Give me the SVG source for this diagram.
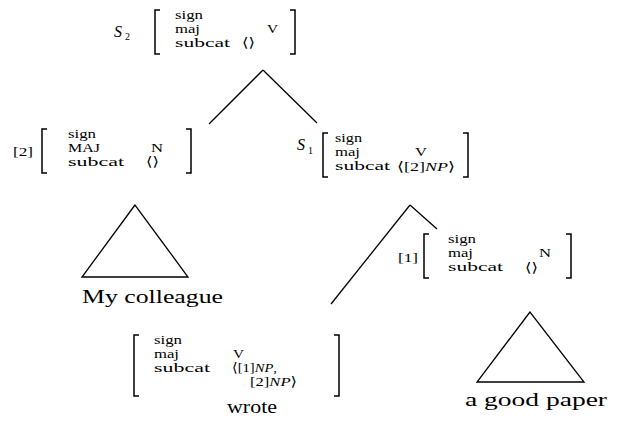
<svg xmlns="http://www.w3.org/2000/svg" width="618" height="425" viewBox="0 0 618 425">
<style>
text{font-family:"Liberation Serif","DejaVu Serif",serif;fill:#000}
.a{font-size:13px}
.b{font-size:18px}
.it{font-style:italic}
.sub{font-size:10px}
.br{fill:none;stroke:#000;stroke-width:1.5}
.ln{fill:none;stroke:#000;stroke-width:1.3}
</style>
<rect width="618" height="425" fill="#fff"/>
<g id="connectors" class="ln">
<path d="M263,70 L209,124"/>
<path d="M263,70 L317,123"/>
<path d="M410,205 L331,304"/>
<path d="M410,205 L437,229"/>
</g>
<g id="s2">
<text class="it" x="114" y="37" font-size="16">S</text>
<text class="sub" x="125" y="40">2</text>
<path class="br" d="M160,10 H155 V54 H160"/>
<text class="a" x="175" y="19" textLength="28" lengthAdjust="spacingAndGlyphs">sign</text>
<text class="a" x="175" y="33" textLength="25" lengthAdjust="spacingAndGlyphs">maj</text>
<text class="a" x="175" y="47" textLength="55" lengthAdjust="spacingAndGlyphs">subcat</text>
<text class="a" x="267" y="33" font-size="15" textLength="11" lengthAdjust="spacingAndGlyphs">V</text>
<text class="a" x="242" y="47" textLength="13" lengthAdjust="spacingAndGlyphs">⟨⟩</text>
<path class="br" d="M290,10 H295 V54 H290"/>
</g>
<g id="n2">
<text class="a" x="13" y="156" font-size="15" textLength="20" lengthAdjust="spacingAndGlyphs">[2]</text>
<path class="br" d="M47,129 H42 V173 H47"/>
<text class="a" x="68" y="138" textLength="28" lengthAdjust="spacingAndGlyphs">sign</text>
<text class="a" x="68" y="152" textLength="32" lengthAdjust="spacingAndGlyphs">MAJ</text>
<text class="a" x="68" y="166" textLength="56" lengthAdjust="spacingAndGlyphs">subcat</text>
<text class="a" x="151" y="152" font-size="15" textLength="12" lengthAdjust="spacingAndGlyphs">N</text>
<text class="a" x="146" y="166" textLength="13" lengthAdjust="spacingAndGlyphs">⟨⟩</text>
<path class="br" d="M186,129 H191 V173 H186"/>
</g>
<g id="colleague">
<path class="ln" d="M135,205 L82,277 L188,277 Z"/>
<text class="b" x="82" y="303" textLength="141" lengthAdjust="spacingAndGlyphs">My colleague</text>
</g>
<g id="s1">
<text class="it" x="297" y="150" font-size="16">S</text>
<text class="sub" x="308" y="154">1</text>
<path class="br" d="M328,133 H323 V177 H328"/>
<text class="a" x="335" y="142" textLength="27" lengthAdjust="spacingAndGlyphs">sign</text>
<text class="a" x="335" y="156" textLength="25" lengthAdjust="spacingAndGlyphs">maj</text>
<text class="a" x="335" y="170" textLength="55" lengthAdjust="spacingAndGlyphs">subcat</text>
<text class="a" x="415" y="156" font-size="15" textLength="12" lengthAdjust="spacingAndGlyphs">V</text>
<text class="a" x="397" y="171" textLength="58" lengthAdjust="spacingAndGlyphs">⟨[2]<tspan class="it">NP</tspan>⟩</text>
<path class="br" d="M463,133 H468 V177 H463"/>
</g>
<g id="n1">
<text class="a" x="398" y="262" font-size="15" textLength="20" lengthAdjust="spacingAndGlyphs">[1]</text>
<path class="br" d="M429,234 H424 V278 H429"/>
<text class="a" x="448" y="243" textLength="28" lengthAdjust="spacingAndGlyphs">sign</text>
<text class="a" x="448" y="257" textLength="25" lengthAdjust="spacingAndGlyphs">maj</text>
<text class="a" x="448" y="271" textLength="55" lengthAdjust="spacingAndGlyphs">subcat</text>
<text class="a" x="539" y="257" font-size="15" textLength="12" lengthAdjust="spacingAndGlyphs">N</text>
<text class="a" x="525" y="272" textLength="13" lengthAdjust="spacingAndGlyphs">⟨⟩</text>
<path class="br" d="M566,234 H571 V278 H566"/>
</g>
<g id="paper">
<path class="ln" d="M530,312 L477,382 L584,382 Z"/>
<text class="b" x="465" y="406" textLength="142" lengthAdjust="spacingAndGlyphs">a good paper</text>
</g>
<g id="wrote">
<path class="br" d="M139,335 H134 V396 H139"/>
<text class="a" x="154" y="344" textLength="28" lengthAdjust="spacingAndGlyphs">sign</text>
<text class="a" x="154" y="358" textLength="25" lengthAdjust="spacingAndGlyphs">maj</text>
<text class="a" x="154" y="372" textLength="56" lengthAdjust="spacingAndGlyphs">subcat</text>
<text class="a" x="233" y="358" font-size="15" textLength="11" lengthAdjust="spacingAndGlyphs">V</text>
<text class="a" x="232" y="372" textLength="45" lengthAdjust="spacingAndGlyphs">⟨[1]<tspan class="it">NP</tspan>,</text>
<text class="a" x="250" y="386" textLength="47" lengthAdjust="spacingAndGlyphs">[2]<tspan class="it">NP</tspan>⟩</text>
<path class="br" d="M334,335 H339 V396 H334"/>
<text class="b" x="227" y="413" textLength="50" lengthAdjust="spacingAndGlyphs">wrote</text>
</g>
</svg>
